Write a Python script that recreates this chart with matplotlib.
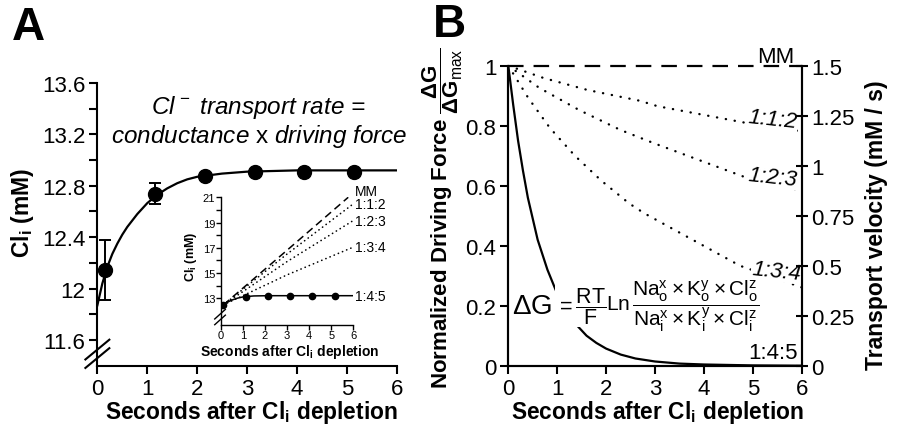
import matplotlib
matplotlib.use("Agg")
import matplotlib.pyplot as plt

plt.rcParams['font.family'] = ['Liberation Sans', 'DejaVu Sans']
plt.rcParams['mathtext.fontset'] = 'custom'
plt.rcParams['mathtext.rm'] = 'Liberation Sans'
plt.rcParams['mathtext.it'] = 'Liberation Sans:italic'
plt.rcParams['mathtext.bf'] = 'Liberation Sans:bold'
plt.rcParams['axes.linewidth'] = 1.5

# --- panel A: measured Cl_i recovery ---
pt_t = [0.15, 1.15, 2.15, 3.15, 4.15, 5.15]
pt_cl = [12.145, 12.74, 12.88, 12.91, 12.91, 12.91]
pt_err = [0.235, 0.085, 0, 0, 0, 0]

fit_t = [0, 0.1, 0.2, 0.3, 0.4, 0.5, 0.6, 0.8, 1.0, 1.2, 1.4, 1.6, 1.8, 2.0, 2.5, 3.0, 4.0, 5.0, 6.0]
fit_cl = [11.87, 12.04, 12.17, 12.27, 12.35, 12.42, 12.48, 12.58, 12.665, 12.73, 12.78, 12.82, 12.85,
          12.87, 12.895, 12.91, 12.92, 12.92, 12.92]

# inset: predicted Cl_i for different stoichiometries
in_pt_t = [0.12, 1.14, 2.15, 3.15, 4.15, 5.15]
in_pt_cl = [12.47, 13.13, 13.2, 13.2, 13.2, 13.2]
in_145_t = [0, 0.12, 0.3, 0.5, 0.75, 1.0, 1.14, 1.5, 2.15, 3.0, 6.0]
in_145_cl = [12.35, 12.47, 12.68, 12.85, 13.0, 13.1, 13.13, 13.18, 13.2, 13.2, 13.2]
in_t = [0.12, 3.0, 5.77]
in_mm = [12.47, 16.8, 21.0]
in_112_t = [0.12, 3.0, 6.0]
in_112 = [12.47, 16.5, 20.48]
in_123 = [12.47, 15.9, 19.16]
in_134 = [12.47, 14.85, 17.05]

# --- panel B: normalized driving force ---
b_t = [0, 0.72, 1.62, 2.69, 3.05, 4.87, 6.0]
b_112 = [1, 0.959, 0.919, 0.883, 0.865, 0.809, 0.781]
b123_t = [0, 0.634, 1.45, 2.29, 2.97, 4.88, 6.0]
b_123 = [1, 0.926, 0.852, 0.786, 0.742, 0.626, 0.583]
b134_t = [0, 0.41, 0.853, 1.36, 1.90, 2.47, 2.78, 4.74, 6.0]
b_134 = [1, 0.892, 0.792, 0.70, 0.617, 0.541, 0.508, 0.333, 0.261]
b145_t = [0, 0.1, 0.2, 0.3, 0.4, 0.5, 0.6, 0.7, 0.8, 0.9, 1.0, 1.2, 1.4, 1.6, 1.8, 2.0, 2.3, 2.6,
          3.0, 3.5, 4.0, 5.0, 6.0]
b_145 = [1, 0.87, 0.75, 0.65, 0.56, 0.49, 0.42, 0.37, 0.32, 0.28, 0.24, 0.18, 0.135, 0.10, 0.076,
         0.057, 0.037, 0.024, 0.014, 0.007, 0.004, 0.001, 0.0]
mm_t = [0, 6]
mm_v = [1, 1]

fig = plt.figure(figsize=(8.99, 4.31), dpi=100)

# ================= A =================
ax = fig.add_axes([0.1083, 0.1492, 0.333, 0.6559])
ax.plot(fit_t, fit_cl, color='k', lw=1.6, zorder=2)
ax.errorbar(pt_t, pt_cl, yerr=pt_err, fmt='o', color='k', ms=10, capsize=4, elinewidth=1.4,
            capthick=1.4, zorder=3)
ax.set_xlim(0, 6)
ax.set_ylim(11.4, 13.6)
ax.set_xticks(range(7))
ax.set_yticks([11.6, 12.0, 12.4, 12.8, 13.2, 13.6])
ax.set_yticklabels(['11.6', '12', '12.4', '12.8', '13.2', '13.6'])
ax.set_yticks([11.8, 12.2, 12.6, 13.0, 13.4], minor=True)
ax.tick_params(axis='both', which='both', direction='out', length=6, width=1.5, labelsize=16, pad=2.5)
for s in ['top', 'right']:
    ax.spines[s].set_visible(False)
for dy in [0.0, 0.03]:
    ax.plot([-0.04, 0.04], [-0.008 + dy, 0.062 + dy], transform=ax.transAxes, color='k', lw=1.5,
            clip_on=False)

fig.text(251 / 899, 1 - 413 / 431, r'Seconds after Cl$_{\mathbf{i}}$ depletion', ha='center',
         va='center', fontsize=16.4, fontweight='bold')
fig.text(22 / 899, 1 - 213 / 431, r'Cl$_{\mathbf{i}}$ (mM)', ha='center', va='center',
         rotation=90, fontsize=16.5, fontweight='bold')
fig.text(258 / 899, 1 - 108 / 431, r'Cl$^{\,-}$ transport rate =', ha='center', va='center',
         fontsize=17.5, style='italic')
fig.text(259 / 899, 1 - 137 / 431, r'conductance $\mathrm{x}$ driving force', ha='center',
         va='center', fontsize=17.5, style='italic')
fig.text(12 / 899, 1 - 28 / 431, 'A', ha='left', va='center', fontsize=33, fontweight='bold')

# inset
ai = fig.add_axes([0.2455, 0.2443, 0.1475, 0.2956])
ai.plot(in_t, in_mm, color='k', lw=1.1, ls=(0, (5, 3)))
ai.plot(in_112_t, in_112, color='k', lw=1.2, ls=(0, (0.1, 2.6)), dash_capstyle='round')
ai.plot(in_112_t, in_123, color='k', lw=1.2, ls=(0, (0.1, 2.6)), dash_capstyle='round')
ai.plot(in_112_t, in_134, color='k', lw=1.2, ls=(0, (0.1, 2.6)), dash_capstyle='round')
ai.plot(in_145_t, in_145_cl, color='k', lw=1.1)
ai.plot(in_pt_t, in_pt_cl, 'o', color='k', ms=4.5)
ai.set_xlim(0, 6)
ai.set_ylim(10.9, 21)
ai.set_xticks(range(7))
ai.set_yticks([13, 15, 17, 19, 21])
ai.set_yticks([14, 16, 18, 20], minor=True)
ai.tick_params(axis='both', which='both', direction='out', length=3.5, width=1, labelsize=8,
               pad=0.5)
for s in ['top', 'right']:
    ai.spines[s].set_visible(False)
for s in ['left', 'bottom']:
    ai.spines[s].set_linewidth(1)
for dy in [0.0, 0.045]:
    ai.plot([-0.045, 0.035], [0.0 + dy, 0.075 + dy], transform=ai.transAxes, color='k', lw=1,
            clip_on=False)
for lab, yv in [('MM', 21.5), ('1:1:2', 20.45), ('1:2:3', 19.13), ('1:3:4', 17.07), ('1:4:5', 13.2)]:
    ai.text(6.08, yv, lab, ha='left', va='center', fontsize=10)
fig.text(290 / 899, 1 - 352 / 431, r'Seconds after Cl$_{\mathbf{i}}$ depletion', ha='center',
         va='center', fontsize=10, fontweight='bold')
fig.text(191 / 899, 1 - 257 / 431, r'Cl$_{\mathbf{i}}$ (mM)', ha='center', va='center',
         rotation=90, fontsize=9, fontweight='bold')

# ================= B =================
bx = fig.add_axes([0.5654, 0.1492, 0.3264, 0.6961])
bx.plot(b145_t, b_145, color='k', lw=1.6, zorder=2)
bx.plot(mm_t, mm_v, color='k', lw=1.6, ls=(0, (7, 4.5)), clip_on=False, zorder=4)
dots = dict(color='k', lw=1.7, ls=(0, (0.1, 3.7)), dash_capstyle='round', zorder=4)
bx.plot(b_t, b_112, **dots)
bx.plot(b123_t, b_123, **dots)
bx.plot(b134_t, b_134, **dots)
bx.set_xlim(0, 6)
bx.set_ylim(0, 1)
bx.set_xticks(range(7))
bx.set_yticks([0, 0.2, 0.4, 0.6, 0.8, 1])
bx.set_yticklabels(['0', '0.2', '0.4', '0.6', '0.8', '1'])
bx.tick_params(axis='both', direction='out', length=6, width=1.5, labelsize=16, pad=2.5)
bx.spines['top'].set_visible(False)

br = bx.twinx()
br.set_ylim(0, 1.5)
br.set_yticks([0, 0.25, 0.5, 0.75, 1, 1.25, 1.5])
br.set_yticklabels(['0', '0.25', '0.5', '0.75', '1', '1.25', '1.5'])
br.tick_params(axis='y', direction='inout', length=9, width=1.5, labelsize=16, pad=2)
br.spines['top'].set_visible(False)

wb = dict(facecolor='white', edgecolor='none', pad=0.5)
bx.text(5.47, 1.03, 'MM', ha='center', va='center', fontsize=16, zorder=5)
bx.text(5.41, 0.822, '1:1:2', ha='center', va='center', fontsize=16, style='italic',
        rotation=-6, bbox=wb, zorder=5)
bx.text(5.41, 0.629, '1:2:3', ha='center', va='center', fontsize=16, style='italic',
        rotation=-6, bbox=wb, zorder=5)
bx.text(5.48, 0.316, '1:3:4', ha='center', va='center', fontsize=16, style='italic',
        rotation=-6, bbox=wb, zorder=5)
bx.text(5.41, 0.045, '1:4:5', ha='center', va='center', fontsize=16, zorder=5)

bx.text(0.076, 0.199, r'$\Delta$G', ha='left', va='center', fontsize=20, zorder=3)
bx.text(0.975, 0.199, r'$=\dfrac{\mathrm{RT}}{\mathrm{F}}$', ha='left', va='center',
        fontsize=15.5, bbox=dict(facecolor='white', edgecolor='none', pad=0.5), zorder=3)
bx.text(2.0, 0.202,
        r'$\mathrm{Ln}\,\dfrac{\mathrm{Na}_{\mathrm{o}}^{\mathrm{x}}\times'
        r'\mathrm{K}_{\mathrm{o}}^{\mathrm{y}}\times\mathrm{Cl}_{\mathrm{o}}^{\mathrm{z}}}'
        r'{\mathrm{Na}_{\mathrm{i}}^{\mathrm{x}}\times\mathrm{K}_{\mathrm{i}}^{\mathrm{y}}'
        r'\times\mathrm{Cl}_{\mathrm{i}}^{\mathrm{z}}}$',
        ha='left', va='center', fontsize=15, zorder=3)

fig.text(657 / 899, 1 - 413 / 431, r'Seconds after Cl$_{\mathbf{i}}$ depletion', ha='center',
         va='center', fontsize=16.4, fontweight='bold')
fig.text(443 / 899, 1 - 218 / 431,
         r'Normalized Driving Force $\mathbf{\dfrac{\Delta G}{\Delta G_{\mathrm{max}}}}$',
         ha='center', va='center', rotation=90, fontsize=16, fontweight='bold')
fig.text(876 / 899, 1 - 225 / 431, 'Transport velocity (mM / s)', ha='center', va='center',
         rotation=90, fontsize=16.5, fontweight='bold')
fig.text(433 / 899, 1 - 25 / 431, 'B', ha='left', va='center', fontsize=33, fontweight='bold')

fig.savefig('out.png', dpi=100)
